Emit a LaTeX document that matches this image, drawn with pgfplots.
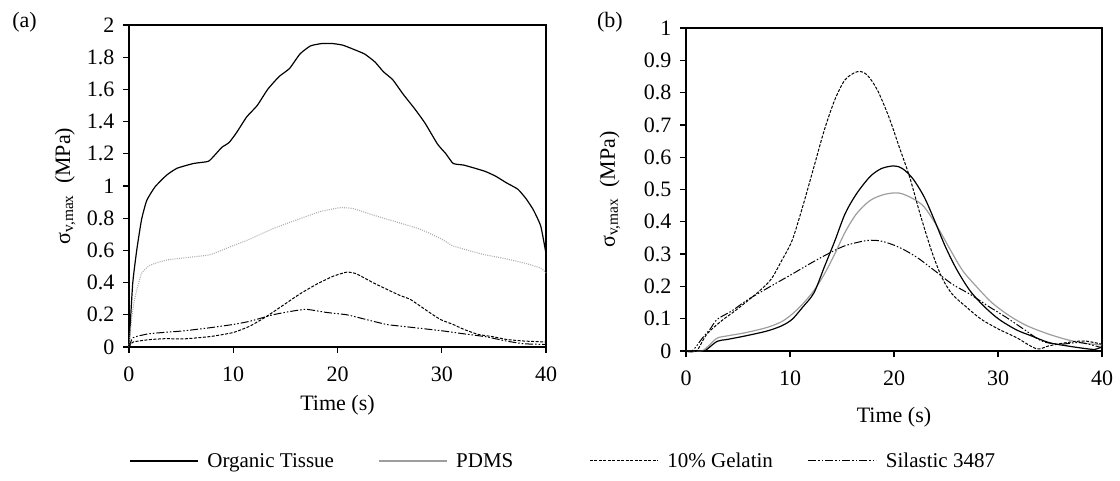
\documentclass[border=0pt]{standalone}
\usepackage{fontspec}
\setmainfont{Liberation Serif}
\usepackage{pgfplots}
\pgfplotsset{compat=1.18}
\definecolor{pdmsA}{gray}{0.68}
\definecolor{pdmsB}{gray}{0.62}
\pgfplotsset{
  myaxis/.style={
    scale only axis,
    xmin=0, xmax=40, ymin=0,
    xtick={0,10,20,30,40},
    tick pos=left, tick align=outside,
    major tick length=6pt,
    every tick/.style={black, line width=1.3pt},
    axis line style={line width=1.6pt},
    tick label style={font=\fontsize{22}{22}\selectfont},
    /pgf/number format/assume math mode=true,
    xticklabel style={yshift=-10pt},
    yticklabel style={xshift=-5pt},
    label style={font=\fontsize{22}{22}\selectfont},
    xlabel={Time\ (s)},
    ylabel={σ\textsubscript{v,max}\ \ (MPa)},
    clip=false,
  },
  org/.style={black, line width=1.2pt},
  pdmsa/.style={pdmsA, line width=1.1pt, dash pattern=on 1pt off 1.2pt},
  pdmsb/.style={pdmsB, line width=1.2pt},
  gel/.style={black, line width=1pt, dash pattern=on 3pt off 1.5pt},
  sil/.style={black, line width=1pt, dash pattern=on 8pt off 2pt on 1.5pt off 2pt on 1.5pt off 2pt},
}
\begin{document}
\begin{tikzpicture}
\useasboundingbox (0,0) rectangle (1120pt,-480pt);
% ---------------- (a)
\begin{axis}[myaxis,
  at={(129pt,-347pt)}, anchor=south west,
  width=417pt, height=322pt,
  ymax=2, ytick={0,0.2,...,2.01},
  xlabel style={at={(axis description cs:0.5,-0.18)}, anchor=center},
  ylabel style={at={(axis description cs:-0.153,0.5)}, anchor=center},
  legend columns=4,
  legend style={at={(axis description cs:-0.0,-0.354)}, anchor=west,
    draw=none, fill=none, inner sep=0pt,
    font=\fontsize{21}{21}\selectfont,
    nodes={inner sep=0pt},
    /tikz/every odd column/.append style={column sep=9pt}},
  legend image code/.code={\draw[#1] (0pt,0pt) -- (68pt,0pt);},
]
\node[font=\fontsize{22}{22}\selectfont] at (axis description cs:-0.2506,1.009) {(a)};
\addplot[org, forget plot, smooth, tension=0.3] coordinates {
(0,0) (0.35,0.39) (0.74,0.60) (1.2,0.79) (1.7,0.91) (2.5,0.995) (3.6,1.067) (4.6,1.11)
(6.2,1.14) (7.6,1.153) (8.2,1.19) (8.9,1.24) (9.6,1.27) (10.3,1.33) (11.3,1.43)
(12.3,1.50) (13.3,1.60) (14.4,1.68) (15.4,1.73) (16.4,1.82) (17.4,1.87) (18.5,1.885)
(19.5,1.885) (20.5,1.875) (21.5,1.85) (22.6,1.82) (23.6,1.77) (24.4,1.71) (25.3,1.66)
(26.3,1.57) (27.4,1.48) (28.4,1.39) (29.6,1.26) (30.4,1.20) (31.1,1.14) (32.1,1.13)
(33.2,1.11) (34.2,1.09) (35.2,1.06) (36.2,1.02) (37.3,0.98) (38.1,0.92) (38.8,0.85)
(39.5,0.75) (40,0.58)};
\addplot[pdmsa, forget plot, smooth, tension=0.3] coordinates {
(0,0) (0.3,0.2) (0.58,0.31) (1.2,0.456) (2.0,0.507) (3.6,0.54) (5.5,0.555) (7.8,0.574)
(10,0.63) (11.6,0.67) (13.8,0.735) (16.4,0.797) (18.3,0.84) (20.2,0.865) (21.5,0.86)
(23.4,0.82) (26,0.77) (28,0.73) (30,0.67) (31,0.63) (32,0.61) (34,0.575) (36,0.55)
(38,0.52) (39.5,0.49) (40,0.46)};
\addplot[gel, forget plot, smooth, tension=0.3] coordinates {
(0,0) (0.4,0.031) (2.0,0.046) (3.6,0.052) (5.2,0.05) (7.8,0.065) (10,0.09) (11.6,0.13)
(13.2,0.19) (14.8,0.26) (16.4,0.33) (18,0.39) (19.6,0.44) (20.9,0.465) (21.8,0.455)
(23.4,0.40) (25,0.35) (26,0.32) (27,0.295) (28.7,0.22) (29.9,0.17) (31.1,0.14)
(32.1,0.11) (33.5,0.078) (34.9,0.064) (36.2,0.047) (37.9,0.037) (40,0.031)};
\addplot[sil, forget plot, smooth, tension=0.3] coordinates {
(0,0) (0.4,0.058) (2.0,0.083) (5.2,0.1) (7.8,0.12) (10,0.14) (11.6,0.16) (13.8,0.2)
(15.4,0.22) (17.0,0.234) (18.9,0.215) (20.9,0.20) (22.8,0.17) (24.7,0.14) (26,0.13)
(27.4,0.12) (30.1,0.1) (32.1,0.082) (34.2,0.064) (36.2,0.037) (37.9,0.02) (40,0.016)};
\addlegendimage{org}
\addlegendentry{Organic Tissue\rule{44pt}{0pt}}
\addlegendimage{pdmsb}
\addlegendentry{PDMS\rule{76pt}{0pt}}
\addlegendimage{gel}
\addlegendentry{10\% Gelatin\rule{35pt}{0pt}}
\addlegendimage{sil}
\addlegendentry{Silastic 3487}
\end{axis}
% ---------------- (b)
\begin{axis}[myaxis,
  at={(686pt,-351pt)}, anchor=south west,
  width=416pt, height=323pt,
  ymax=1, ytick={0,0.1,...,1.01},
  xlabel style={at={(axis description cs:0.5,-0.204)}, anchor=center},
  ylabel style={at={(axis description cs:-0.183,0.5)}, anchor=center},
]
\node[font=\fontsize{22}{22}\selectfont] at (axis description cs:-0.183,1.019) {(b)};
\addplot[pdmsb, smooth, tension=0.5] coordinates {
(0,0) (1.5,0) (2.3,0.02) (3.0,0.04) (4,0.047) (5.75,0.057) (7.8,0.073) (9.2,0.091)
(10.2,0.114) (11.2,0.145) (12.3,0.187) (13.3,0.238) (14.3,0.30) (15.3,0.368) (16.4,0.425)
(17.7,0.466) (19.1,0.485) (20.5,0.489) (21.8,0.472) (22.9,0.446) (24.2,0.383) (25.3,0.32)
(26.6,0.249) (28,0.197) (29.4,0.15) (31.1,0.109) (32.8,0.078) (34.9,0.052) (36.9,0.033)
(38.6,0.023) (40,0.019)};
\addplot[org, smooth, tension=0.5] coordinates {
(0,0) (1.64,0) (2.0,0.005) (3.0,0.03) (4.0,0.036) (5.75,0.047) (7.8,0.062) (9.2,0.078)
(10.2,0.098) (11.2,0.135) (12.3,0.18) (13.3,0.26) (14.3,0.34) (15.3,0.425) (16.4,0.487)
(17.7,0.54) (18.8,0.565) (20.0,0.573) (20.8,0.565) (21.8,0.534) (22.9,0.477) (23.9,0.404)
(24.9,0.326) (26.0,0.254) (27.3,0.187) (28.7,0.137) (30.1,0.098) (31.8,0.065) (33.2,0.047)
(34.9,0.026) (36.6,0.016) (38.3,0.008) (39.3,0.005) (40,0.013)};
\addplot[gel, smooth, tension=0.5] coordinates {
(0,0) (1,0) (2,0.052) (3.4,0.093) (4.7,0.124) (6.1,0.16) (7.1,0.187) (8.2,0.223) (9.2,0.28)
(10.2,0.342) (11.2,0.445) (12.3,0.57) (13.3,0.684) (14.3,0.777) (15.3,0.84) (16.5,0.865)
(17.4,0.855) (18.4,0.808) (19.5,0.725) (20.5,0.632) (21.5,0.539) (22.5,0.425) (23.6,0.311)
(24.6,0.228) (25.6,0.176) (27,0.135) (28.4,0.098) (30.1,0.067) (31.8,0.041) (33.7,0.007)
(34.9,0.016) (36.6,0.026) (38.3,0.031) (40,0.021)};
\addplot[sil, smooth, tension=0.5] coordinates {
(0,0) (0.6,0) (1.6,0.041) (2.3,0.067) (3.0,0.098) (4.4,0.124) (5.75,0.155) (7.1,0.181)
(8.5,0.207) (10.2,0.238) (11.9,0.27) (13.6,0.30) (15.3,0.326) (17.4,0.342) (18.8,0.34)
(20.5,0.321) (22.2,0.29) (23.9,0.249) (25.6,0.207) (27.3,0.176) (29.0,0.14) (30.8,0.104)
(32.5,0.067) (34.2,0.031) (35.9,0.021) (37.9,0.026) (40,0.01)};
\end{axis}
\end{tikzpicture}
\end{document}
